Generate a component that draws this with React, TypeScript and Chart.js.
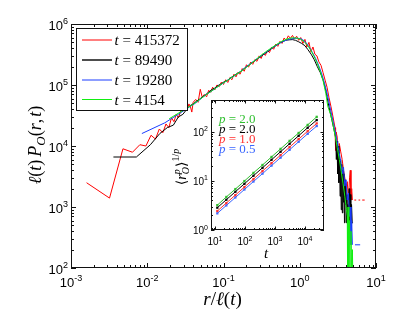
import React, { useEffect, useRef } from 'react';
import { Chart, registerables } from 'chart.js';
Chart.register(...registerables);

// ---------- data ----------
const T_LABELS = ['415372', '89490', '19280', '4154'];
const MAIN_COLORS = ['#ff0000', '#000000', '#1a3cff', '#11ee11'];

// [r/l(t), l(t) P_O(r,t)]  (null = empty bin)
const RED_PTS: [number, number | null][] = [
  [0.0016, 2500], [0.0032, 1400], [0.0048, 9000], [0.0064, 7900], [0.008, 10500], [0.0096, 10000],
  [0.0112, 15000], [0.0128, 13000], [0.0144, 19000], [0.016, 16500], [0.0176, 23000], [0.0192, 20000],
  [0.0208, 29000], [0.0224, 25000], [0.024, 33000], [0.0256, 29000], [0.0272, 36000], [0.0288, 70000],
  [0.0304, 38000], [0.032, 44000], [0.0336, 40000], [0.0352, 49000], [0.0368, 44000], [0.0384, 36000],
  [0.04, 52000], [0.0432, 58000], [0.0464, 52000], [0.0496, 85000], [0.0528, 62000], [0.056, 70000],
  [0.06, 64000], [0.064, 82000], [0.068, 76000], [0.072, 92000], [0.077, 83000], [0.082, 100000],
  [0.088, 94000], [0.094, 112000], [0.1, 102000], [0.107, 122000], [0.114, 110000], [0.121, 132000],
  [0.129, 122000], [0.137, 150000], [0.146, 136000], [0.155, 162000], [0.165, 150000], [0.176, 186000],
  [0.187, 168000], [0.2, 215000], [0.213, 196000], [0.227, 238000], [0.242, 218000], [0.258, 262000],
  [0.275, 244000], [0.293, 300000], [0.312, 272000], [0.332, 330000], [0.354, 305000], [0.377, 370000],
  [0.401, 340000], [0.427, 420000], [0.455, 385000], [0.485, 470000], [0.516, 430000], [0.55, 520000],
  [0.586, 480000], [0.624, 590000], [0.665, 540000], [0.708, 640000], [0.754, 580000], [0.803, 650000],
  [0.855, 570000], [0.91, 630000], [0.97, 540000], [1.03, 600000], [1.1, 480000], [1.17, 560000],
  [1.24, 420000], [1.32, 500000], [1.4, 350000], [1.49, 420000], [1.58, 320000], [1.68, 300000],
  [1.78, 240000], [1.9, 210000], [2.02, 160000], [2.15, 120000], [2.28, 92000], [2.42, 62000],
  [2.57, 44000], [2.73, 30000], [2.9, 20000], [2.95, 8500], [3.0, 17000], [3.1, 14000], [3.2, 3600],
  [3.3, 11000], [3.45, 8000], [3.6, 6000], [3.75, 4000], [3.9, 3000], [4.05, 2200], [4.2, 2600],
  [4.35, 1300], [4.5, 3000], [4.6, 4000], [4.7, 1300], [4.8, 2000], [4.9, 1300], [5.0, null],
  [5.2, 1300], [5.5, 1300], [5.7, null], [5.9, 1300], [6.2, 1300], [6.4, null], [6.6, 1300], [7.1, 1300],
];

const BLACK_PTS: [number, number | null][] = [
  [0.0036, 6600], [0.0072, 6600], [0.011, 10500], [0.0146, 16000], [0.0183, 20000], [0.022, 22000],
  [0.0256, 30000], [0.0293, 33000], [0.033, 40000], [0.0366, 46000], [0.04, 49000], [0.044, 54000],
  [0.048, 58000], [0.053, 64000], [0.058, 69000], [0.064, 76000], [0.07, 84000], [0.077, 89000],
  [0.085, 98000], [0.093, 104000], [0.102, 113000], [0.112, 118000], [0.123, 131000], [0.135, 140000],
  [0.148, 152000], [0.163, 162000], [0.179, 178000], [0.197, 196000], [0.216, 212000], [0.237, 232000],
  [0.26, 252000], [0.286, 276000], [0.314, 298000], [0.345, 325000], [0.379, 352000], [0.416, 385000],
  [0.457, 420000], [0.502, 455000], [0.551, 490000], [0.605, 520000], [0.665, 545000], [0.73, 550000],
  [0.8, 555000], [0.88, 540000], [0.97, 510000], [1.06, 480000], [1.17, 440000], [1.28, 380000],
  [1.41, 320000], [1.55, 260000], [1.7, 200000], [1.86, 160000], [2.04, 118000], [2.2, 80000],
  [2.35, 52000], [2.5, 36000], [2.65, 26000], [2.8, 19000], [2.95, 14000], [3.02, 6000], [3.08, 12000],
  [3.14, 3500], [3.2, 10000], [3.26, 2500], [3.32, 8000], [3.38, 1500], [3.44, 6000], [3.5, 900],
  [3.56, 5000], [3.62, 800], [3.68, 4000], [3.74, 1200], [3.8, 3500], [3.86, 550], [3.92, 2800],
  [3.98, 1100], [4.04, 2200], [4.1, 550], [4.16, 1600], [4.22, 550], [4.28, 1100], [4.34, 550],
  [4.45, 2000], [4.52, 550], [4.6, 1600], [4.68, 550], [4.78, 1100], [4.88, 550], [5.0, 550], [5.1, null],
];

const BLUE_PTS: [number, number | null][] = [
  [0.0085, 16000], [0.017, 24000], [0.0255, 33000], [0.034, 42000], [0.0425, 50000], [0.051, 60000],
  [0.0595, 70000], [0.068, 78000], [0.0765, 86000], [0.085, 95000], [0.1, 108000], [0.12, 126000],
  [0.14, 142000], [0.165, 165000], [0.195, 195000], [0.23, 228000], [0.27, 265000], [0.32, 310000],
  [0.37, 352000], [0.43, 405000], [0.5, 455000], [0.58, 505000], [0.67, 545000], [0.77, 570000],
  [0.88, 585000], [0.98, 580000], [1.08, 560000], [1.2, 500000], [1.33, 420000], [1.47, 340000],
  [1.62, 270000], [1.78, 205000], [1.95, 150000], [2.12, 105000], [2.3, 70000], [2.48, 45000],
  [2.66, 30000], [2.85, 20000], [3.05, 13000], [3.25, 8500], [3.45, 5500], [3.6, 3500], [3.75, 4500],
  [3.9, 2200], [4.05, 2800], [4.2, 1300], [4.35, 1700], [4.5, 700], [4.6, 1000], [4.7, 240],
  [4.8, 600], [4.9, 240], [5.0, null], [5.3, 240], [6.2, 240],
];

const GREEN_PTS: [number, number | null][] = [
  [0.0194, 28000], [0.0388, 47000], [0.058, 68000], [0.078, 88000], [0.097, 106000], [0.116, 122000],
  [0.136, 140000], [0.155, 156000], [0.175, 172000], [0.2, 195000], [0.23, 225000], [0.27, 265000],
  [0.32, 315000], [0.37, 360000], [0.43, 410000], [0.5, 465000], [0.58, 520000], [0.66, 560000],
  [0.74, 585000], [0.83, 595000], [0.93, 585000], [1.03, 560000], [1.14, 515000], [1.26, 450000],
  [1.4, 370000], [1.55, 290000], [1.7, 225000], [1.86, 165000], [2.03, 115000], [2.2, 72000],
  [2.33, 45000], [2.4, 40000], [2.52, 34000], [2.7, 24000], [2.9, 15000], [3.1, 9500], [3.3, 6000],
  [3.5, 3800], [3.7, 2400], [3.9, 1500], [4.1, 900], [4.2, 700], [4.25, 50], [4.3, 1000], [4.4, 50],
  [4.5, 600], [4.6, 50], [4.7, 400], [4.8, 50], [4.9, 200], [5.0, 50],
];

// inset: <r_O^p>^(1/p) vs t
const INSET_T = [12, 24, 48, 96, 192, 384, 768, 1536, 3072, 6144, 12288, 24576];
const INSET_P = ['2.0', '2.0', '1.0', '0.5'];
const INSET_COLORS = ['#2fbf2f', '#000000', '#ff3030', '#3a66ff'];
const INSET_GREEN = [3.2, 4.7, 6.8, 9.9, 14.5, 21, 30.6, 44.6, 65, 94, 137, 200];
const INSET_BLACK = [2.84, 4.13, 6.0, 8.7, 12.7, 18.4, 26.8, 39, 56.7, 82.4, 120, 172];
const INSET_RED = [2.43, 3.53, 5.13, 7.46, 10.8, 15.8, 22.9, 33.3, 48.5, 70.5, 102, 147];
const INSET_BLUE = [2.18, 3.16, 4.59, 6.66, 9.67, 14.0, 20.4, 29.6, 42.9, 62.3, 90.4, 130];

// ---------- helpers ----------
const SANS = '"Liberation Sans", Arial, Helvetica, sans-serif';
const SERIF = '"Liberation Serif", "DejaVu Serif", "Times New Roman", serif';

type Seg = { t: string; f: string; dy?: number; sub?: { t: string; f: string; dy: number } };

function segW(ctx: CanvasRenderingContext2D, s: Seg) {
  ctx.font = s.f;
  let w = ctx.measureText(s.t).width;
  if (s.sub) {
    ctx.font = s.sub.f;
    w = Math.max(w, ctx.measureText(s.sub.t).width);
  }
  return w;
}

function drawSegs(ctx: CanvasRenderingContext2D, segs: Seg[], x: number, y: number, align: string, color: string) {
  const ws = segs.map((s) => segW(ctx, s));
  const total = ws.reduce((a, b) => a + b, 0);
  let cx = align === 'left' ? x : align === 'center' ? x - total / 2 : x - total;
  ctx.fillStyle = color;
  ctx.textAlign = 'left';
  ctx.textBaseline = 'alphabetic';
  segs.forEach((s, i) => {
    ctx.font = s.f;
    ctx.fillText(s.t, cx, y + (s.dy || 0));
    if (s.sub) {
      ctx.font = s.sub.f;
      ctx.fillText(s.sub.t, cx, y + s.sub.dy);
    }
    cx += ws[i];
  });
}

function logTicks(min: number, max: number) {
  const major: number[] = [];
  const minor: number[] = [];
  const d0 = Math.floor(Math.log10(min));
  const d1 = Math.ceil(Math.log10(max));
  for (let d = d0; d <= d1; d++) {
    for (let k = 1; k <= 9; k++) {
      const v = k * Math.pow(10, d);
      if (v < min * 0.999 || v > max * 1.001) continue;
      (k === 1 ? major : minor).push(v);
    }
  }
  return { major, minor };
}

function drawFrame(ctx: CanvasRenderingContext2D, chart: any, majorLen: number, minorLen: number) {
  const a = chart.chartArea;
  const xs = chart.scales.x;
  const ys = chart.scales.y;
  ctx.save();
  ctx.strokeStyle = '#111';
  ctx.lineWidth = 1;
  ctx.beginPath();
  const xt = logTicks(xs.min, xs.max);
  const yt = logTicks(ys.min, ys.max);
  const xl: [number[], number][] = [[xt.major, majorLen], [xt.minor, minorLen]];
  const yl: [number[], number][] = [[yt.major, majorLen], [yt.minor, minorLen]];
  for (const [arr, len] of xl) {
    for (const v of arr) {
      const p = Math.round(xs.getPixelForValue(v)) + 0.5;
      ctx.moveTo(p, a.bottom);
      ctx.lineTo(p, a.bottom - len);
      ctx.moveTo(p, a.top);
      ctx.lineTo(p, a.top + len);
    }
  }
  for (const [arr, len] of yl) {
    for (const v of arr) {
      const p = Math.round(ys.getPixelForValue(v)) + 0.5;
      ctx.moveTo(a.left, p);
      ctx.lineTo(a.left + len, p);
      ctx.moveTo(a.right, p);
      ctx.lineTo(a.right - len, p);
    }
  }
  ctx.stroke();
  ctx.strokeRect(a.left + 0.5, a.top + 0.5, a.right - a.left - 1, a.bottom - a.top - 1);
  ctx.restore();
}

function powLabel(e: number, big: number, small: number, dy: number): Seg[] {
  return [
    { t: '10', f: `${big}px ${SANS}` },
    { t: e < 0 ? '-' + String(-e) : String(e), f: `${small}px ${SANS}`, dy },
  ];
}

const mainPlugin = {
  id: 'mainDecor',
  afterDraw(chart: any) {
    const ctx: CanvasRenderingContext2D = chart.ctx;
    const xs = chart.scales.x;
    const ys = chart.scales.y;
    const a = chart.chartArea;
    drawFrame(ctx, chart, 5, 3);
    ctx.save();
    for (let e = -3; e <= 1; e++) {
      drawSegs(ctx, powLabel(e, 13, 9, -6), xs.getPixelForValue(Math.pow(10, e)), a.bottom + 18.5, 'center', '#000');
    }
    for (let e = 2; e <= 6; e++) {
      drawSegs(ctx, powLabel(e, 13, 9, -6), a.left - 3, ys.getPixelForValue(Math.pow(10, e)) + 5.5, 'right', '#000');
    }
    // x label
    const I19 = `italic 19px ${SERIF}`;
    const N19 = `19px ${SERIF}`;
    drawSegs(ctx, [
      { t: 'r', f: I19 }, { t: '/', f: N19 }, { t: 'ℓ', f: I19 }, { t: '(', f: N19 }, { t: 't', f: I19 }, { t: ')', f: N19 },
    ], (a.left + a.right) / 2 - 1, 305, 'center', '#000');
    // y label
    ctx.save();
    ctx.translate(41, 145);
    ctx.rotate(-Math.PI / 2);
    const I18 = `italic 18px ${SERIF}`;
    const N18 = `18px ${SERIF}`;
    drawSegs(ctx, [
      { t: 'ℓ', f: I18 }, { t: '(', f: N18 }, { t: 't', f: I18 }, { t: ')', f: N18 }, { t: ' ', f: `12px ${SERIF}` },
      { t: 'P', f: I18 }, { t: 'O', f: `italic 13px ${SERIF}`, dy: 4 }, { t: '(', f: N18 }, { t: 'r', f: I18 },
      { t: ',', f: N18 }, { t: ' ', f: `8px ${SERIF}` }, { t: 't', f: I18 }, { t: ')', f: N18 },
    ], 0, 0, 'center', '#000');
    ctx.restore();
    // legend
    const lx = 76, ly = 28, lw = 112, lh = 83;
    ctx.fillStyle = '#fff';
    ctx.fillRect(lx, ly, lw, lh);
    ctx.strokeStyle = '#111';
    ctx.lineWidth = 1;
    ctx.strokeRect(lx + 0.5, ly + 0.5, lw - 1, lh - 1);
    const rows = [40, 60, 80, 99.5];
    T_LABELS.forEach((lab, i) => {
      ctx.strokeStyle = MAIN_COLORS[i];
      ctx.lineWidth = i === 1 ? 1.4 : 1;
      ctx.beginPath();
      ctx.moveTo(82, rows[i]);
      ctx.lineTo(112, rows[i]);
      ctx.stroke();
      drawSegs(ctx, [
        { t: 't', f: `italic 15px ${SERIF}` }, { t: ' = ', f: `15px ${SERIF}` }, { t: lab, f: `15px ${SERIF}` },
      ], 114.5, rows[i] + 5, 'left', '#000');
    });
    ctx.restore();
  },
};

const insetPlugin = {
  id: 'insetDecor',
  beforeDatasetsDraw(chart: any) {
    const ctx: CanvasRenderingContext2D = chart.ctx;
    const a = chart.chartArea;
    ctx.save();
    ctx.fillStyle = '#fff';
    ctx.fillRect(a.left, a.top, a.right - a.left, a.bottom - a.top);
    ctx.restore();
  },
  afterDraw(chart: any) {
    const ctx: CanvasRenderingContext2D = chart.ctx;
    const xs = chart.scales.x;
    const ys = chart.scales.y;
    const a = chart.chartArea;
    drawFrame(ctx, chart, 3.5, 2);
    ctx.save();
    for (let e = 1; e <= 4; e++) {
      drawSegs(ctx, powLabel(e, 10, 7, -4.5), xs.getPixelForValue(Math.pow(10, e)), a.bottom + 15, 'center', '#000');
    }
    for (let e = 0; e <= 2; e++) {
      drawSegs(ctx, powLabel(e, 10, 7, -4.5), a.left - 3, ys.getPixelForValue(Math.pow(10, e)) + 4, 'right', '#000');
    }
    drawSegs(ctx, [{ t: 't', f: `italic 15px ${SERIF}` }], (a.left + a.right) / 2 - 1.5, 258, 'center', '#000');
    ctx.save();
    ctx.translate(185.5, 167);
    ctx.rotate(-Math.PI / 2);
    drawSegs(ctx, [
      { t: '⟨', f: `14px ${SERIF}` },
      { t: 'r', f: `italic 14px ${SERIF}` },
      { t: 'p', f: `italic 10px ${SERIF}`, dy: -6, sub: { t: 'O', f: `italic 10px ${SERIF}`, dy: 3.5 } },
      { t: '⟩', f: `14px ${SERIF}` },
      { t: '1/', f: `10px ${SERIF}`, dy: -7 },
      { t: 'p', f: `italic 10px ${SERIF}`, dy: -7 },
    ], 0, 0, 'center', '#000');
    ctx.restore();
    INSET_P.forEach((p, i) => {
      drawSegs(ctx, [
        { t: 'p', f: `italic 13px ${SERIF}` }, { t: ' = ', f: `13px ${SERIF}` }, { t: p, f: `13px ${SERIF}` },
      ], 219, 122.5 + 10 * i, 'left', INSET_COLORS[i]);
    });
    ctx.restore();
  },
};

function toXY(pts: [number, number | null][]) {
  return pts.map(([x, y]) => ({ x, y }));
}

export default function App() {
  const mainRef = useRef<HTMLCanvasElement>(null);
  const insetRef = useRef<HTMLCanvasElement>(null);

  useEffect(() => {
    const series = [RED_PTS, BLACK_PTS, BLUE_PTS, GREEN_PTS];
    const main = new Chart(mainRef.current as HTMLCanvasElement, {
      type: 'line',
      data: {
        datasets: series.map((pts, i) => ({
          label: 't = ' + T_LABELS[i],
          data: toXY(pts) as any,
          borderColor: MAIN_COLORS[i],
          borderWidth: 1,
          pointRadius: 0,
          tension: 0,
          spanGaps: false,
          order: 4 - i,
        })),
      },
      options: {
        animation: false,
        responsive: false,
        devicePixelRatio: 1,
        layout: { padding: { left: 71, top: 24, right: 39, bottom: 45 } },
        scales: {
          x: { type: 'logarithmic', min: 1e-3, max: 10, display: false },
          y: { type: 'logarithmic', min: 100, max: 1e6, display: false },
        },
        plugins: { legend: { display: false }, tooltip: { enabled: false } },
        events: [],
      },
      plugins: [mainPlugin],
    } as any);

    const insetSeries = [INSET_GREEN, INSET_BLACK, INSET_RED, INSET_BLUE];
    const inset = new Chart(insetRef.current as HTMLCanvasElement, {
      type: 'line',
      data: {
        datasets: insetSeries.map((vals, i) => ({
          label: 'p = ' + INSET_P[i],
          data: INSET_T.map((t, j) => ({ x: t, y: vals[j] })),
          borderColor: INSET_COLORS[i],
          backgroundColor: INSET_COLORS[i],
          borderWidth: 1,
          pointRadius: 1.6,
          pointBorderWidth: 0,
          pointStyle: 'rect',
          tension: 0,
        })),
      },
      options: {
        animation: false,
        responsive: false,
        devicePixelRatio: 1,
        layout: { padding: { left: 211, top: 100, right: 91, bottom: 83 } },
        scales: {
          x: { type: 'logarithmic', min: 7.4, max: 43000, display: false },
          y: { type: 'logarithmic', min: 1, max: 440, display: false },
        },
        plugins: { legend: { display: false }, tooltip: { enabled: false } },
        events: [],
      },
      plugins: [insetPlugin],
    } as any);

    return () => {
      main.destroy();
      inset.destroy();
    };
  }, []);

  return (
    <div style={{ position: 'fixed', left: 0, top: 0, width: 415, height: 313, background: '#fff' }}>
      <canvas ref={mainRef} width={415} height={313} style={{ position: 'absolute', left: 0, top: 0, width: 415, height: 313 }} />
      <canvas ref={insetRef} width={415} height={313} style={{ position: 'absolute', left: 0, top: 0, width: 415, height: 313 }} />
    </div>
  );
}
